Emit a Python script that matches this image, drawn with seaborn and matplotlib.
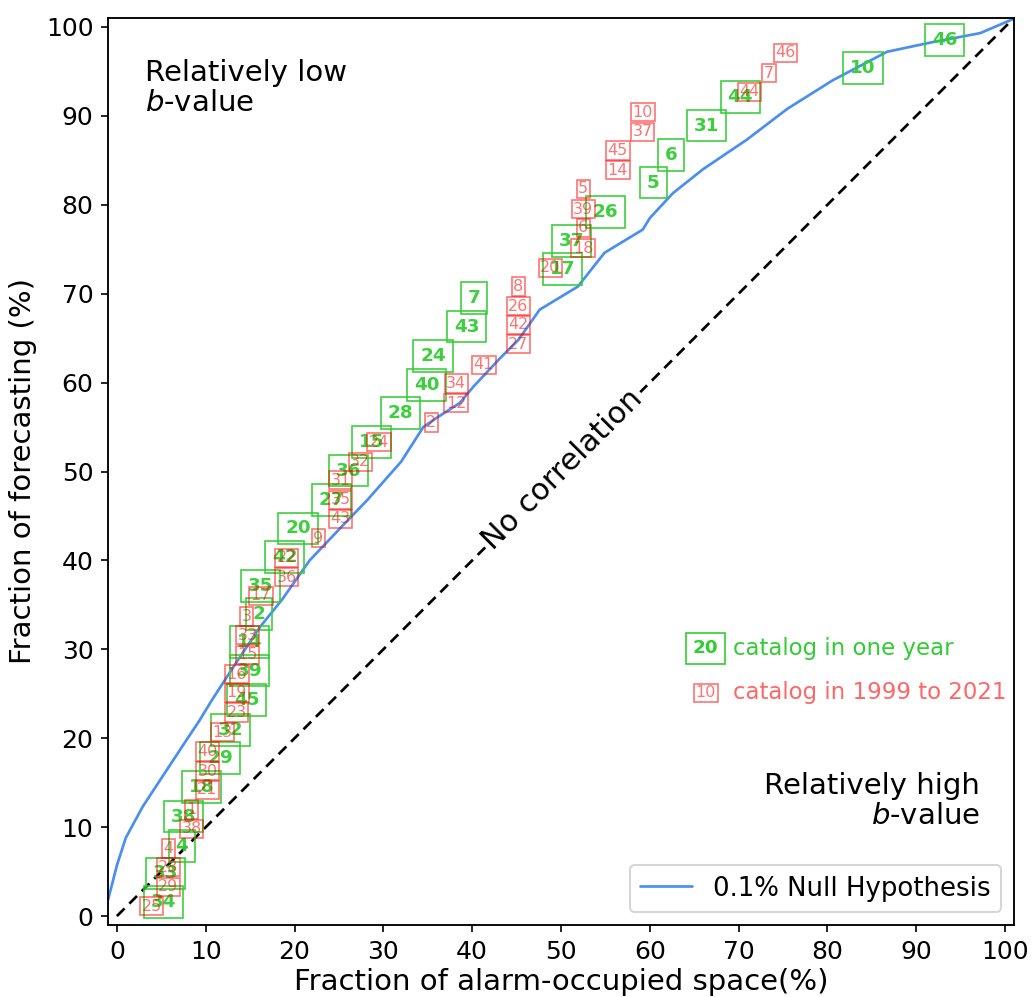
import matplotlib
matplotlib.use("Agg")
import matplotlib.pyplot as plt
import seaborn as sns
import pandas as pd

# ---- data ----
null_x = [-1, 0, 1.0, 2.9, 5.2, 7.7, 9.3, 10.7, 13.1, 16.1, 18.6, 21.7, 25.5, 28.2, 32.0,
          34.5, 36.1, 38.6, 40.1, 43.1, 45.2, 47.6, 51.9, 54.9, 59.2, 60.0, 62.6, 66.0,
          70.9, 75.5, 80.6, 86.7, 91.9, 97.2, 101.4]
null_y = [1.8, 5.7, 8.8, 12.3, 15.8, 19.6, 22.0, 24.3, 28.0, 32.5, 35.6, 40.0, 44.0, 46.8, 51.1,
          55.0, 56.1, 57.7, 59.5, 62.7, 64.8, 68.2, 70.8, 74.6, 77.2, 78.5, 81.3, 84.0,
          87.3, 90.8, 94.0, 97.2, 98.3, 99.3, 101.1]

green_labels = ['46', '10', '44', '31', '6', '5', '26', '37', '17', '7', '43', '24', '40', '28',
                '15', '36', '27', '20', '42', '35', '2', '14', '39', '45', '32', '29', '18',
                '38', '4', '33', '34']
green_x = [93.2, 84.0, 70.2, 66.4, 62.4, 60.4, 55.0, 51.2, 50.2, 40.2, 39.4, 35.6, 34.9, 31.9,
           28.7, 26.1, 24.2, 20.4, 18.9, 16.2, 16.0, 14.9, 14.9, 14.6, 12.8, 11.6, 9.5,
           7.5, 7.3, 5.5, 5.3]
green_y = [98.5, 95.4, 92.1, 88.9, 85.6, 82.5, 79.2, 75.9, 72.8, 69.5, 66.3, 63.0, 59.7, 56.6,
           53.3, 50.1, 46.8, 43.6, 40.4, 37.1, 34.0, 30.8, 27.6, 24.3, 20.9, 17.8, 14.5,
           11.2, 7.9, 4.8, 1.6]

red_labels = ['46', '7', '44', '10', '37', '45', '14', '5', '39', '6', '18', '20', '8', '26',
              '42', '27', '41', '34', '12', '2', '24', '32', '31', '35', '43', '9', '22', '36',
              '17', '3', '33', '15', '16', '19', '23', '13', '40', '30', '21', '1', '38', '4',
              '28', '29', '25']
red_x = [75.3, 73.4, 71.2, 59.2, 59.2, 56.4, 56.4, 52.5, 52.5, 52.5, 52.5, 48.8, 45.2, 45.2,
         45.2, 45.2, 41.3, 38.2, 38.2, 35.4, 29.5, 27.4, 25.2, 25.2, 25.2, 22.7, 19.1, 19.1,
         16.2, 14.6, 14.7, 14.7, 13.5, 13.5, 13.5, 11.9, 10.2, 10.2, 10.2, 8.4, 8.4, 5.8,
         5.8, 5.8, 3.9]
red_y = [97.1, 94.8, 92.7, 90.4, 88.2, 86.1, 83.9, 81.8, 79.5, 77.4, 75.1, 72.9, 70.8, 68.6,
         66.5, 64.3, 62.0, 59.9, 57.7, 55.5, 53.3, 51.1, 49.0, 46.8, 44.7, 42.5, 40.3, 38.1,
         36.0, 33.7, 31.6, 29.4, 27.2, 25.1, 22.9, 20.7, 18.5, 16.3, 14.2, 12.0, 9.8, 7.6,
         5.5, 3.3, 1.1]

ticks = [0, 10, 20, 30, 40, 50, 60, 70, 80, 90, 100]

GREEN = '#32CD32'
RED = 'red'
BLUE = '#4a8ff0'

sns.set_style("white")
plt.rcParams['font.family'] = ['DejaVu Sans']
plt.rcParams.update({'text.color': 'black', 'axes.labelcolor': 'black',
                     'xtick.color': 'black', 'ytick.color': 'black',
                     'axes.edgecolor': 'black'})

fig = plt.figure(figsize=(6.9, 997 / 150), dpi=150)
ax = fig.add_axes([108 / 1035, 1 - 925 / 997, (1014 - 108) / 1035, (925 - 18) / 997])

df_null = pd.DataFrame({'x': null_x, 'y': null_y})
sns.lineplot(data=df_null, x='x', y='y', sort=False, color=BLUE, lw=1.3,
             label='0.1% Null Hypothesis', ax=ax)
sns.lineplot(x=[0, 101], y=[0, 101], color='black', ls=(0, (4, 2.5)), lw=1.3, ax=ax)

for lab, x, y in zip(green_labels, green_x, green_y):
    ax.text(x, y, lab, ha='center', va='center', fontsize=8.8, fontweight='bold',
            color=GREEN, alpha=0.95,
            bbox=dict(boxstyle='square,pad=0.37', fc='none', ec=GREEN, lw=0.8, alpha=0.95))

for lab, x, y in zip(red_labels, red_x, red_y):
    ax.text(x, y, lab, ha='center', va='center', fontsize=7.7, color=RED, alpha=0.55,
            bbox=dict(boxstyle='square,pad=0.1', fc='none', ec=RED, lw=0.8, alpha=0.55))

# pseudo legend for catalogs
ax.text(66.3, 30.1, '20', ha='center', va='center', fontsize=8.8, fontweight='bold',
        color=GREEN, bbox=dict(boxstyle='square,pad=0.37', fc='none', ec=GREEN, lw=0.8))
ax.text(69.4, 30.1, 'catalog in one year', ha='left', va='center', fontsize=11, color=GREEN)
ax.text(66.3, 25.1, '10', ha='center', va='center', fontsize=7.7, color=RED, alpha=0.55,
        bbox=dict(boxstyle='square,pad=0.1', fc='none', ec=RED, lw=0.8, alpha=0.55))
ax.text(69.4, 25.1, 'catalog in 1999 to 2021', ha='left', va='center', fontsize=11,
        color=RED, alpha=0.6)

ax.text(3.2, 93.1, 'Relatively low\n$b$-value', ha='left', va='center', fontsize=14,
        linespacing=1.1, color='black')
ax.text(97.2, 12.9, 'Relatively high\n$b$-value', ha='right', va='center', fontsize=14,
        multialignment='right', linespacing=1.1, color='black')
ax.text(50.2, 50.2, 'No correlation', ha='center', va='center', fontsize=14.5, rotation=45,
        rotation_mode='anchor', color='black',
        bbox=dict(boxstyle='square,pad=0.1', fc='white', ec='none'))

ax.set_xlim(-1, 101)
ax.set_ylim(-1, 101)
ax.set_xticks(ticks)
ax.set_yticks(ticks)
ax.tick_params(axis='both', labelsize=12, direction='out', length=3.5, width=0.8,
               bottom=True, left=True, colors='black')
ax.set_xlabel('Fraction of alarm-occupied space(%)', fontsize=14, labelpad=2)
ax.set_ylabel('Fraction of forecasting (%)', fontsize=14, labelpad=4)
for s in ax.spines.values():
    s.set_color('black')
    s.set_linewidth(0.9)

leg = ax.legend(loc='lower right', fontsize=12.5, frameon=True)
for t in leg.get_texts():
    t.set_color('black')

fig.savefig('out.png', dpi=150)
